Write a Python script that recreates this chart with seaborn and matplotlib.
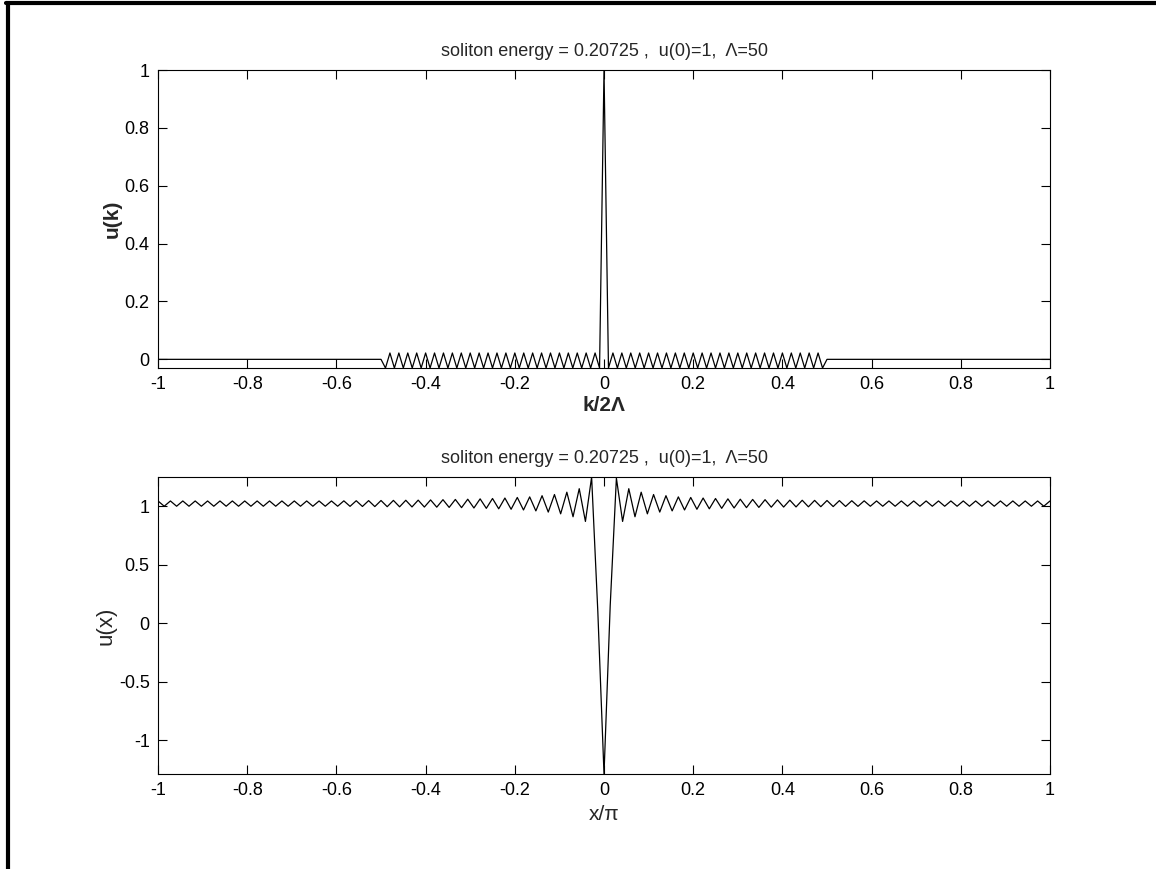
import numpy as np
import matplotlib
matplotlib.use('Agg')
import matplotlib.pyplot as plt
from matplotlib.lines import Line2D
from matplotlib.ticker import FuncFormatter
import seaborn as sns

sns.set_theme(style='ticks')
plt.rcParams['font.family'] = ['Liberation Sans', 'DejaVu Sans']

title_txt = 'soliton energy = 0.20725 ,  u(0)=1,  \u039b=50'

# panel 1: u(k) on k = -100..100 (k/2Lambda in [-1, 1])
k_over_2L = np.linspace(-1, 1, 201)
uk_outer = [0.0] * 51
uk_left = [-0.03, 0.022, -0.03, 0.022, -0.03, 0.022, -0.03, 0.022, -0.03, 0.022,
           -0.03, 0.022, -0.03, 0.022, -0.03, 0.022, -0.03, 0.022, -0.03, 0.022,
           -0.03, 0.022, -0.03, 0.022, -0.03, 0.022, -0.03, 0.022, -0.03, 0.022,
           -0.03, 0.022, -0.03, 0.022, -0.03, 0.022, -0.03, 0.022, -0.03, 0.022,
           -0.03, 0.022, -0.03, 0.022, -0.03, 0.022, -0.03, 0.022, -0.03]
uk_center = [1.0]
uk_right = [-0.03, 0.022, -0.03, 0.022, -0.03, 0.022, -0.03, 0.022, -0.03, 0.022,
            -0.03, 0.022, -0.03, 0.022, -0.03, 0.022, -0.03, 0.022, -0.03, 0.022,
            -0.03, 0.022, -0.03, 0.022, -0.03, 0.022, -0.03, 0.022, -0.03, 0.022,
            -0.03, 0.022, -0.03, 0.022, -0.03, 0.022, -0.03, 0.022, -0.03, 0.022,
            -0.03, 0.022, -0.03, 0.022, -0.03, 0.022, -0.03, 0.022, -0.03]
u_k = uk_outer + uk_left + uk_center + uk_right + uk_outer

# panel 2: u(x), x/pi in [-1, 1]
x_over_pi = np.linspace(-1, 1, 145)
ux_left = [1.045, 1.0, 1.045, 1.0, 1.045, 1.0, 1.045, 1.0, 1.045, 1.0,
           1.045, 1.0, 1.045, 1.0, 1.045, 1.0, 1.045, 1.0, 1.045, 1.0,
           1.045, 1.0, 1.045, 1.0, 1.045, 1.0, 1.045, 1.0, 1.045, 1.0,
           1.046, 0.999, 1.047, 0.998, 1.048, 0.997, 1.049, 0.996, 1.05, 0.995,
           1.051, 0.994, 1.052, 0.993, 1.054, 0.992, 1.056, 0.99, 1.058, 0.988,
           1.06, 0.985, 1.063, 0.982, 1.066, 0.978, 1.07, 0.974, 1.075, 0.968,
           1.08, 0.96, 1.09, 0.95, 1.1, 0.935, 1.12, 0.91, 1.15, 0.87,
           1.25, 0.1]
ux_center = [-1.29]
ux_right = [0.15, 1.24, 0.87, 1.15, 0.91, 1.12, 0.935, 1.1, 0.95, 1.09,
            0.96, 1.08, 0.968, 1.075, 0.974, 1.07, 0.978, 1.066, 0.982, 1.063,
            0.985, 1.06, 0.988, 1.058, 0.99, 1.056, 0.992, 1.054, 0.993, 1.052,
            0.994, 1.051, 0.995, 1.05, 0.996, 1.049, 0.997, 1.048, 0.998, 1.047,
            0.999, 1.046, 1.0, 1.045, 1.0, 1.045, 1.0, 1.045, 1.0, 1.045,
            1.0, 1.045, 1.0, 1.045, 1.0, 1.045, 1.0, 1.045, 1.0, 1.045,
            1.0, 1.045, 1.0, 1.045, 1.0, 1.045, 1.0, 1.045, 1.0, 1.045,
            1.0, 1.045]
u_x = ux_left + ux_center + ux_right

fig = plt.figure(figsize=(11.56, 8.69), dpi=100)
fig.patch.set_facecolor('white')
ax1 = fig.add_axes([0.1367, 0.5765, 0.7716, 0.3429])
ax2 = fig.add_axes([0.1367, 0.1093, 0.7716, 0.3418])

sns.lineplot(x=k_over_2L, y=u_k, ax=ax1, color='black', lw=0.9)
sns.lineplot(x=x_over_pi, y=u_x, ax=ax2, color='black', lw=0.9)


def matlab_fmt(v, pos):
    if abs(v) < 1e-9:
        return '0'
    return '%g' % round(v, 4)


fmt = FuncFormatter(matlab_fmt)
for ax, ticks in [(ax1, [0, 0.2, 0.4, 0.6, 0.8, 1]), (ax2, [-1, -0.5, 0, 0.5, 1])]:
    ax.set_xlim(-1, 1)
    ax.set_xticks([-1, -0.8, -0.6, -0.4, -0.2, 0, 0.2, 0.4, 0.6, 0.8, 1])
    ax.set_yticks(ticks)
    ax.xaxis.set_major_formatter(fmt)
    ax.yaxis.set_major_formatter(fmt)
    ax.tick_params(direction='in', length=6.5, width=0.8, top=True, right=True,
                   labelsize=13, colors='black', pad=6)
    for s in ax.spines.values():
        s.set_visible(True)
        s.set_color('black')
        s.set_linewidth(0.8)
    ax.set_title(title_txt, fontsize=13, pad=10)
    ax.set_facecolor('white')

ax1.set_ylim(min(u_k), max(u_k))
ax2.set_ylim(min(u_x), max(u_x))

ax1.set_xlabel('k/2\u039b', fontsize=15, fontweight='bold', labelpad=2)
ax1.set_ylabel('u(k)', fontsize=15, fontweight='bold', labelpad=2)
ax2.set_xlabel('x/\u03c0', fontsize=15, labelpad=4)
ax2.set_ylabel('u(x)', fontsize=16, labelpad=2)

# screenshot frame
fig.add_artist(Line2D([0.0069, 0.0069], [0.0, 0.996], transform=fig.transFigure,
                      color='black', lw=3))
fig.add_artist(Line2D([0.0052, 1.0], [0.996, 0.996], transform=fig.transFigure,
                      color='black', lw=3))

fig.savefig('out.png', dpi=100, facecolor='white')
